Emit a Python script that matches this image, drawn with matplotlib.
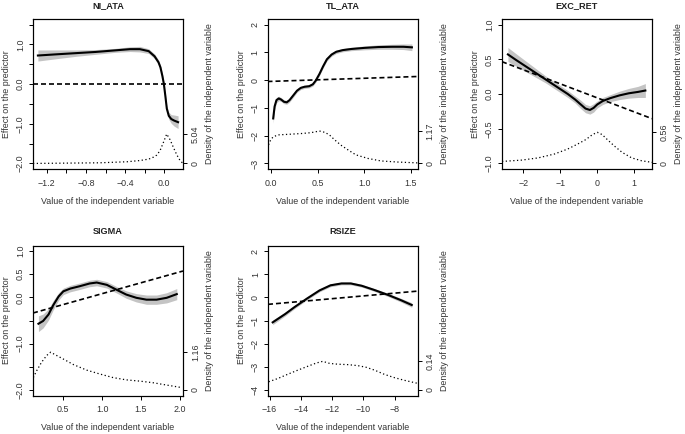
import numpy as np
import matplotlib
matplotlib.use('Agg')
import matplotlib.pyplot as plt

plt.rcParams['font.family'] = ['Liberation Sans', 'DejaVu Sans']

# ---------------- data ----------------

# NI_ATA
ni_ata_x = [-1.29, -1.1, -0.9, -0.7, -0.5, -0.35, -0.25, -0.16, -0.1, -0.06,
            -0.04, -0.02, -0.005, 0.01, 0.025, 0.045, 0.07, 0.1, 0.14]
ni_ata_y = [0.72, 0.75, 0.78, 0.81, 0.85, 0.88, 0.88, 0.83, 0.70, 0.55,
            0.42, 0.20, 0.0, -0.30, -0.62, -0.80, -0.88, -0.92, -0.96]
ni_ata_band = [0.14, 0.11, 0.08, 0.06, 0.05, 0.06, 0.07, 0.06, 0.06, 0.06,
               0.06, 0.06, 0.06, 0.06, 0.07, 0.09, 0.11, 0.14, 0.16]
ni_ata_fit = (0.0, 0.0)  # intercept, slope
ni_ata_dens_x = [-1.34, -0.66, -0.38, -0.25, -0.16, -0.11, -0.078, -0.044,
                 -0.01, 0.024, 0.058, 0.092, 0.126, 0.16, 0.19]
ni_ata_dens = [0.0, 0.11, 0.29, 0.5, 0.74, 1.09, 1.43, 2.2,
               3.6, 5.04, 4.07, 2.75, 1.5, 0.5, 0.0]
ni_ata_dmax = '5.04'

# TL_ATA
tl_ata_x = [0.025, 0.04, 0.06, 0.085, 0.11, 0.14, 0.17, 0.2, 0.24, 0.28, 0.32,
            0.36, 0.41, 0.45, 0.48, 0.52, 0.56, 0.6, 0.65, 0.7, 0.77, 0.86,
            1.0, 1.15, 1.3, 1.42, 1.51]
tl_ata_y = [-1.38, -0.95, -0.72, -0.66, -0.70, -0.78, -0.80, -0.72, -0.55,
            -0.38, -0.28, -0.24, -0.22, -0.15, -0.02, 0.22, 0.50, 0.75, 0.92,
            1.02, 1.08, 1.12, 1.16, 1.19, 1.20, 1.20, 1.18]
tl_ata_band = [0.17, 0.13, 0.10, 0.08, 0.07, 0.07, 0.07, 0.07, 0.07, 0.06,
               0.06, 0.06, 0.06, 0.06, 0.06, 0.06, 0.06, 0.06, 0.06, 0.06,
               0.06, 0.06, 0.07, 0.08, 0.09, 0.10, 0.12]
tl_ata_fit = (-0.046, 0.112)
tl_ata_dens_x = [-0.036, -0.02, 0.0, 0.025, 0.078, 0.185, 0.33, 0.43, 0.52,
                 0.58, 0.63, 0.68, 0.75, 0.83, 0.91, 1.04, 1.18, 1.36, 1.57]
tl_ata_dens = [0.54, 0.72, 0.86, 0.96, 1.03, 1.05, 1.08, 1.11, 1.17,
               1.12, 1.02, 0.86, 0.66, 0.48, 0.31, 0.18, 0.09, 0.05, 0.02]
tl_ata_dmax = '1.17'

# EXC_RET
exc_ret_x = [-2.42, -2.2, -2.0, -1.8, -1.6, -1.4, -1.2, -1.0, -0.8, -0.6,
             -0.45, -0.32, -0.2, -0.1, 0.0, 0.15, 0.35, 0.6, 0.85, 1.1, 1.3]
exc_ret_y = [0.57, 0.49, 0.42, 0.35, 0.28, 0.21, 0.14, 0.07, 0.0, -0.08,
             -0.15, -0.21, -0.23, -0.20, -0.15, -0.10, -0.06, -0.02, 0.01,
             0.03, 0.05]
exc_ret_band = [0.10, 0.09, 0.08, 0.07, 0.06, 0.05, 0.05, 0.05, 0.05, 0.05,
                0.06, 0.06, 0.06, 0.06, 0.05, 0.05, 0.05, 0.06, 0.07, 0.08,
                0.10]
exc_ret_fit = (-0.056, -0.202)
exc_ret_dens_x = [-2.58, -2.05, -1.6, -1.16, -0.8, -0.53, -0.31, -0.13, 0.0,
                  0.13, 0.27, 0.45, 0.67, 0.93, 1.2, 1.5]
exc_ret_dens = [0.036, 0.06, 0.10, 0.17, 0.26, 0.35, 0.43, 0.52, 0.56,
                0.52, 0.43, 0.32, 0.20, 0.10, 0.048, 0.018]
exc_ret_dmax = '0.56'

# SIGMA
sigma_x = [0.18, 0.24, 0.31, 0.37, 0.44, 0.5, 0.59, 0.71, 0.84, 0.93, 1.06,
           1.19, 1.31, 1.44, 1.57, 1.7, 1.83, 1.96]
sigma_y = [-0.57, -0.51, -0.37, -0.17, 0.02, 0.13, 0.19, 0.24, 0.30, 0.32,
           0.27, 0.16, 0.06, -0.01, -0.05, -0.05, -0.01, 0.07]
sigma_band = [0.17, 0.15, 0.12, 0.10, 0.08, 0.07, 0.07, 0.07, 0.07, 0.07,
              0.07, 0.07, 0.08, 0.09, 0.10, 0.10, 0.11, 0.12]
sigma_fit = (-0.39, 0.47)
sigma_dens_x = [0.114, 0.157, 0.22, 0.286, 0.337, 0.39, 0.5, 0.63, 0.8, 0.97,
                1.14, 1.31, 1.49, 1.66, 1.83, 2.03]
sigma_dens = [0.38, 0.59, 0.85, 1.06, 1.16, 1.09, 0.95, 0.78, 0.61, 0.49,
              0.38, 0.31, 0.27, 0.22, 0.15, 0.07]
sigma_dmax = '1.16'

# RSIZE
rsize_x = [-15.8, -15.0, -14.4, -13.6, -12.8, -12.1, -11.4, -10.8, -10.1,
           -9.3, -8.4, -7.6, -6.9]
rsize_y = [-1.08, -0.72, -0.42, -0.05, 0.30, 0.52, 0.60, 0.60, 0.50, 0.32,
           0.10, -0.12, -0.33]
rsize_band = [0.10, 0.08, 0.07, 0.06, 0.06, 0.06, 0.06, 0.06, 0.06, 0.06,
              0.07, 0.08, 0.10]
rsize_fit = (0.659, 0.0597)
rsize_dens_x = [-16.06, -15.47, -14.83, -14.19, -13.55, -13.0, -12.6, -12.16,
                -11.63, -11.0, -10.35, -9.82, -9.28, -8.64, -8.0, -7.36, -6.51]
rsize_dens = [0.04, 0.056, 0.077, 0.097, 0.116, 0.132, 0.14, 0.13, 0.126,
              0.124, 0.119, 0.111, 0.097, 0.076, 0.06, 0.047, 0.032]
rsize_dmax = '0.14'

# tick positions and labels
ni_ata_xticks = [-1.2, -1.0, -0.8, -0.6, -0.4, -0.2, 0.0]
ni_ata_xlabels = ['\u22121.2', '', '\u22120.8', '', '\u22120.4', '', '0.0']
ni_ata_yticks = [-2.0, -1.5, -1.0, -0.5, 0.0, 0.5, 1.0, 1.5]
ni_ata_ylabels = ['\u22122.0', '', '\u22121.0', '', '0.0', '', '1.0', '']

tl_ata_xticks = [0.0, 0.5, 1.0, 1.5]
tl_ata_xlabels = ['0.0', '0.5', '1.0', '1.5']
tl_ata_yticks = [-3, -2, -1, 0, 1, 2]
tl_ata_ylabels = ['\u22123', '\u22122', '\u22121', '0', '1', '2']

exc_ret_xticks = [-2, -1, 0, 1]
exc_ret_xlabels = ['\u22122', '\u22121', '0', '1']
exc_ret_yticks = [-1.0, -0.5, 0.0, 0.5, 1.0]
exc_ret_ylabels = ['\u22121.0', '\u22120.5', '0.0', '0.5', '1.0']

sigma_xticks = [0.5, 1.0, 1.5, 2.0]
sigma_xlabels = ['0.5', '1.0', '1.5', '2.0']
sigma_yticks = [-2.0, -1.5, -1.0, -0.5, 0.0, 0.5, 1.0]
sigma_ylabels = ['\u22122.0', '', '\u22121.0', '', '0.0', '0.5', '1.0']

rsize_xticks = [-16, -14, -12, -10, -8]
rsize_xlabels = ['\u221216', '\u221214', '\u221212', '\u221210', '\u22128']
rsize_yticks = [-4, -3, -2, -1, 0, 1, 2]
rsize_ylabels = ['\u22124', '\u22123', '\u22122', '\u22121', '0', '1', '2']

panels = [
    ('NI_ATA', ni_ata_x, ni_ata_y, ni_ata_band, ni_ata_fit, ni_ata_dens_x,
     ni_ata_dens, ni_ata_dmax, ni_ata_xticks, ni_ata_xlabels, ni_ata_yticks,
     ni_ata_ylabels),
    ('TL_ATA', tl_ata_x, tl_ata_y, tl_ata_band, tl_ata_fit, tl_ata_dens_x,
     tl_ata_dens, tl_ata_dmax, tl_ata_xticks, tl_ata_xlabels, tl_ata_yticks,
     tl_ata_ylabels),
    ('EXC_RET', exc_ret_x, exc_ret_y, exc_ret_band, exc_ret_fit,
     exc_ret_dens_x, exc_ret_dens, exc_ret_dmax, exc_ret_xticks,
     exc_ret_xlabels, exc_ret_yticks, exc_ret_ylabels),
    ('SIGMA', sigma_x, sigma_y, sigma_band, sigma_fit, sigma_dens_x,
     sigma_dens, sigma_dmax, sigma_xticks, sigma_xlabels, sigma_yticks,
     sigma_ylabels),
    ('RSIZE', rsize_x, rsize_y, rsize_band, rsize_fit, rsize_dens_x,
     rsize_dens, rsize_dmax, rsize_xticks, rsize_xlabels, rsize_yticks,
     rsize_ylabels),
]

# ---------------- layout (pixels of a 685x434 canvas) ----------------
W, H = 685.0, 434.0
box = 150.0
# left edge, top edge of each plot box
origins = [(33, 19), (267.5, 19), (502, 19), (33, 245.5), (268, 245.5)]
xlims = [(-1.34, 0.19), (-0.036, 1.57), (-2.58, 1.48), (0.11, 2.04),
         (-16.1, -6.5)]
ylims = [(-2.14, 1.64), (-3.2, 2.2), (-1.08, 1.08), (-2.12, 1.12),
         (-4.24, 2.24)]
# upper limit of the density scale (peak sits low in the box)
dens_top = [23.8, 5.01, 2.50, 4.27, 0.68]

text_col = '#333333'
fs = 6.4

fig = plt.figure(figsize=(W / 100, H / 100), dpi=100)

for i, (title, x, y, band, fit, dx, dy, dmax, xt, xl, yt, yl) in \
        enumerate(panels):

    left, top = origins[i]
    ax = fig.add_axes([left / W, (H - top - box) / H, box / W, box / H])

    x = np.array(x)
    y = np.array(y)
    band = np.array(band)

    # confidence band, smooth effect and linear fit
    ax.fill_between(x, y - band, y + band, color='#c4c4c4', lw=0, zorder=1)
    ax.plot(x, y, color='black', lw=1.5, zorder=3)
    ax.axline((0, fit[0]), slope=fit[1], color='black', lw=1.2,
              ls=(0, (3, 1.8)), zorder=4)

    ax.set_xlim(*xlims[i])
    ax.set_ylim(*ylims[i])
    ax.set_xticks(xt)
    ax.set_xticklabels(xl)
    ax.set_yticks(yt)
    ax.set_yticklabels(yl)
    ax.tick_params(direction='out', length=3, width=0.7, labelsize=fs,
                   colors='black', labelcolor=text_col)
    ax.tick_params(axis='x', pad=4.2)
    ax.tick_params(axis='y', labelrotation=90, pad=2.8)
    plt.setp(ax.get_yticklabels(), va='center')
    for s in ax.spines.values():
        s.set_linewidth(0.8)

    # labels
    ax.set_xlabel('Value of the independent variable', fontsize=fs,
                  color=text_col)
    ax.xaxis.set_label_coords(0.5, -32.0 / box)
    ax.xaxis.label.set_verticalalignment('center')
    ax.set_ylabel('Effect on the predictor', fontsize=fs, color=text_col)
    ax.yaxis.set_label_coords(-26.5 / box, 0.5)
    ax.yaxis.label.set_verticalalignment('center')
    ax.text(0.5, 1 + 13.5 / box, title, transform=ax.transAxes,
            ha='center', va='center', fontsize=6.6, fontweight='bold',
            color='#222222')

    # density of the independent variable on a second axis
    tw = ax.twinx()
    tw.plot(dx, dy, color='black', lw=0.9, ls=(0, (1, 2)))
    T = dens_top[i]
    tw.set_ylim(-0.04 * T, 1.04 * T)
    tw.set_yticks([0, float(dmax)])
    tw.set_yticklabels(['0', dmax])
    tw.tick_params(direction='out', length=3, width=0.7, labelsize=fs,
                   labelcolor=text_col, labelrotation=90, pad=2.8)
    plt.setp(tw.get_yticklabels(), va='center')
    tw.set_ylabel('Density of the independent variable', fontsize=fs,
                  color=text_col)
    tw.yaxis.set_label_coords(1 + 26.7 / box, 0.5)
    tw.yaxis.label.set_verticalalignment('center')
    for s in tw.spines.values():
        s.set_linewidth(0.8)

plt.savefig('out.png', dpi=100)
plt.close(fig)
